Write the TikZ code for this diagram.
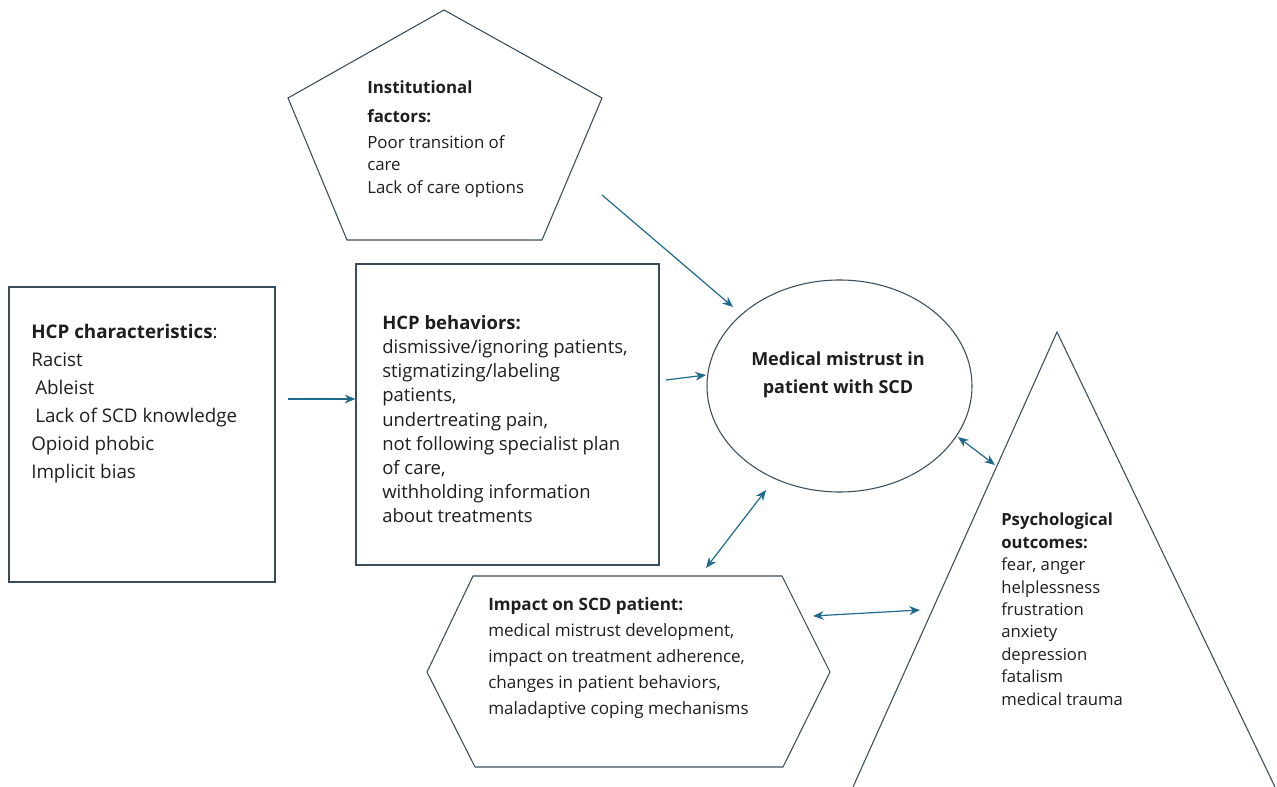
\documentclass[tikz,border=0pt]{standalone}
\usepackage{fontspec}
\setmainfont{Open Sans}
\usetikzlibrary{arrows.meta,shapes.geometric}
\definecolor{shapeline}{HTML}{3B4D5A}
\definecolor{arrowcol}{HTML}{1F6A8C}
\definecolor{txt}{HTML}{1E1E1E}
\begin{document}
\begin{tikzpicture}[x=0.75pt,y=-0.75pt,
  shapebox/.style={draw=shapeline, line width=0.8pt},
  arr/.style={draw=arrowcol, line width=0.9pt, -{Stealth[length=8pt,width=6.5pt]}},
  darr/.style={draw=arrowcol, line width=0.9pt, {Stealth[length=8pt,width=6.5pt]}-{Stealth[length=8pt,width=6.5pt]}},
  body/.style={text=txt, align=left, inner sep=0pt, anchor=north west}]
\useasboundingbox (0,0) rectangle (1277,787);

% shapes
\node[shapebox, rectangle, minimum width=199.5pt, minimum height=221.25pt] (hcpchar) at (142,434.5) {};
\node[shapebox, rectangle, minimum width=227.25pt, minimum height=225.75pt] (hcpbeh) at (507.5,414.5) {};
\node[shapebox, ellipse, minimum width=198.75pt, minimum height=159pt] (mistrust) at (839.5,386) {};
\draw[shapebox] (444,10) coordinate (pentop) -- (602,98) -- (542,240) -- (347,240) -- (288,98) -- cycle;
\draw[shapebox] (473,576) -- (782,576) -- (830,672) -- (783,767) -- (475,767) -- (427,672) -- cycle;
\draw[shapebox] (853,787) -- (1057,332) -- (1275,787);

% texts
\node[body, font=\fontsize{14.1}{21}\selectfont] (tchar) at (31,324)
  {\textbf{HCP characteristics}:\\Racist\\\hspace{3pt}Ableist\\\hspace{3pt}Lack of SCD knowledge\\Opioid phobic\\Implicit bias};
\node[body, font=\fontsize{13.85}{18.15}\selectfont] (tbeh) at (382,315)
  {\textbf{HCP behaviors:}\\dismissive/ignoring patients,\\stigmatizing/labeling\\patients,\\undertreating pain,\\not following specialist plan\\of care,\\withholding information\\about treatments};
\node[body, font=\fontsize{12.65}{17}\selectfont] (tinst) at (367,80)
  {\textbf{Institutional}\\[4.7pt]\textbf{factors:}\\[2.5pt]Poor transition of\\care\\Lack of care options};
\node[text=txt, align=center, inner sep=0pt, font=\bfseries\fontsize{13.5}{21}\selectfont] (tmis) at (838,375)
  {Medical mistrust in\\patient with SCD};
\node[body, font=\fontsize{12.8}{19.5}\selectfont] (timp) at (488,597)
  {\textbf{Impact on SCD patient:}\\medical mistrust development,\\impact on treatment adherence,\\changes in patient behaviors,\\maladaptive coping mechanisms};
\node[body, font=\fontsize{12.5}{16.8}\selectfont] (tpsy) at (1001,513)
  {\textbf{Psychological}\\\textbf{outcomes:}\\fear, anger\\helplessness\\frustration\\anxiety\\depression\\fatalism\\medical trauma};

% connector end points
\coordinate (c1a) at (288,399);
\coordinate (c2a) at (666,380); \coordinate (c2b) at (706,375);
\coordinate (c3a) at (602,195); \coordinate (c3b) at (733,307);
\coordinate (c4a) at (958,437); \coordinate (c4b) at (995,465);
\coordinate (c5a) at (766,490); \coordinate (c5b) at (706,568);
\coordinate (c6a) at (813,616); \coordinate (c6b) at (920,610);

\draw[arr] (c1a) -- (c1a -| hcpbeh.west);
\draw[arr] (c2a) -- (c2b);
\draw[arr] (c3a) -- (c3b);
\draw[darr] (c4a) -- (c4b);
\draw[darr] (c5a) -- (c5b);
\draw[darr] (c6a) -- (c6b);
\end{tikzpicture}
\end{document}
